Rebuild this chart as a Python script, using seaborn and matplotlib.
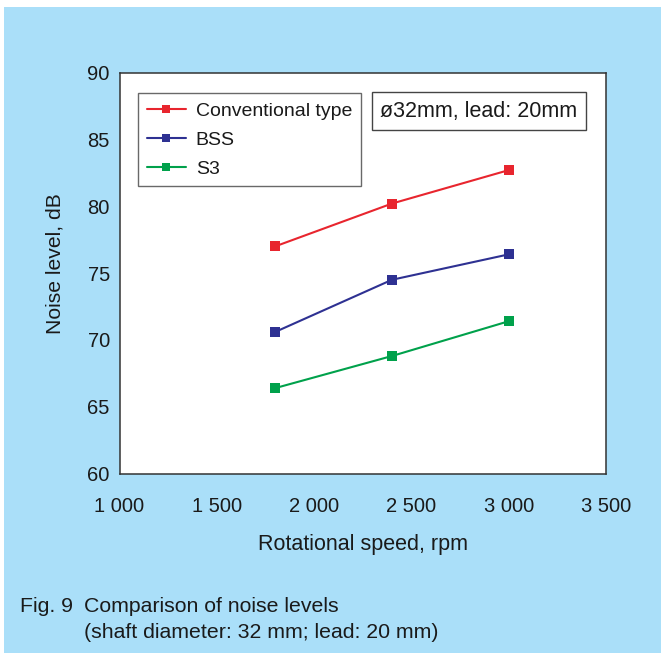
import matplotlib
matplotlib.use("Agg")
import matplotlib.pyplot as plt
import seaborn as sns
import pandas as pd
from matplotlib.patches import Rectangle
from matplotlib.ticker import FuncFormatter

# ---- data ----
speeds = [1800, 2400, 3000]
conventional = [77.0, 80.2, 82.7]
bss = [70.6, 74.5, 76.4]
s3 = [66.4, 68.8, 71.4]
series_names = ["Conventional type", "BSS", "S3"]
x_ticks = [1000, 1500, 2000, 2500, 3000, 3500]
y_ticks = [60, 65, 70, 75, 80, 85, 90]

df = pd.DataFrame({
    "speed": speeds * 3,
    "noise": conventional + bss + s3,
    "type": [series_names[0]] * 3 + [series_names[1]] * 3 + [series_names[2]] * 3,
})

sns.set_theme(style="white")
plt.rcParams["font.family"] = ["Liberation Sans", "DejaVu Sans"]

BG = "#aadff9"
TXT = "#1a1a1a"
palette = {"Conventional type": "#e8252e", "BSS": "#2e3192", "S3": "#00a14b"}

fig = plt.figure(figsize=(6.61, 6.53), dpi=100)
fig.patch.set_facecolor("white")
fig.patches.append(Rectangle((4 / 661, 0), 1, 1 - 7 / 653, transform=fig.transFigure,
                             facecolor=BG, edgecolor="none", zorder=-10))

ax = fig.add_axes([119.5 / 661, 1 - 473.7 / 653, (606 - 119.5) / 661, (473.7 - 72.5) / 653])
ax.set_facecolor("white")

sns.lineplot(data=df, x="speed", y="noise", hue="type", palette=palette,
             marker="s", markersize=6.5, markeredgewidth=0, linewidth=1.5,
             ax=ax, legend=True)

ax.set_xlim(1000, 3500)
ax.set_ylim(60, 90)
ax.set_xticks(x_ticks)
ax.set_yticks(y_ticks)
ax.xaxis.set_major_formatter(FuncFormatter(lambda v, p: f"{int(v):,}".replace(",", " ")))
ax.tick_params(axis="both", direction="in", length=8, width=1, color="#333333",
               labelsize=14.5, labelcolor=TXT)
ax.tick_params(axis="x", pad=17)
ax.tick_params(axis="y", pad=7)
for s in ax.spines.values():
    s.set_visible(True)
    s.set_color("#333333")
    s.set_linewidth(1.1)

ax.set_xlabel("Rotational speed, rpm", fontsize=15.5, color=TXT, labelpad=13)
ax.set_ylabel("Noise level, dB", fontsize=15.2, color=TXT)
ax.yaxis.set_label_coords(-0.114, 0.525)

leg = ax.legend(loc="upper left", bbox_to_anchor=(0.0386, 0.9477), borderaxespad=0,
                fancybox=False, frameon=True, fontsize=14.0, handlelength=2.0,
                handletextpad=0.5, borderpad=0.45, labelspacing=0.58, markerscale=0.8)
leg.get_frame().set_edgecolor("#444444")
leg.get_frame().set_linewidth(1.0)
for t in leg.get_texts():
    t.set_color(TXT)

ax.text(0.739, 0.9036, "ø32mm, lead: 20mm", transform=ax.transAxes, ha="center", va="center",
        fontsize=15.5, color=TXT,
        bbox=dict(boxstyle="square,pad=0.4", facecolor="white", edgecolor="#444444", linewidth=1.0))

fig.text(20 / 661, 1 - 607 / 653, "Fig. 9", fontsize=15.3, color=TXT, va="center", ha="left")
fig.text(84 / 661, 1 - 607 / 653, "Comparison of noise levels", fontsize=15.3, color=TXT,
         va="center", ha="left")
fig.text(84 / 661, 1 - 632 / 653, "(shaft diameter: 32 mm; lead: 20 mm)", fontsize=15.3,
         color=TXT, va="center", ha="left")

fig.savefig("out.png", dpi=100, facecolor=fig.get_facecolor())
